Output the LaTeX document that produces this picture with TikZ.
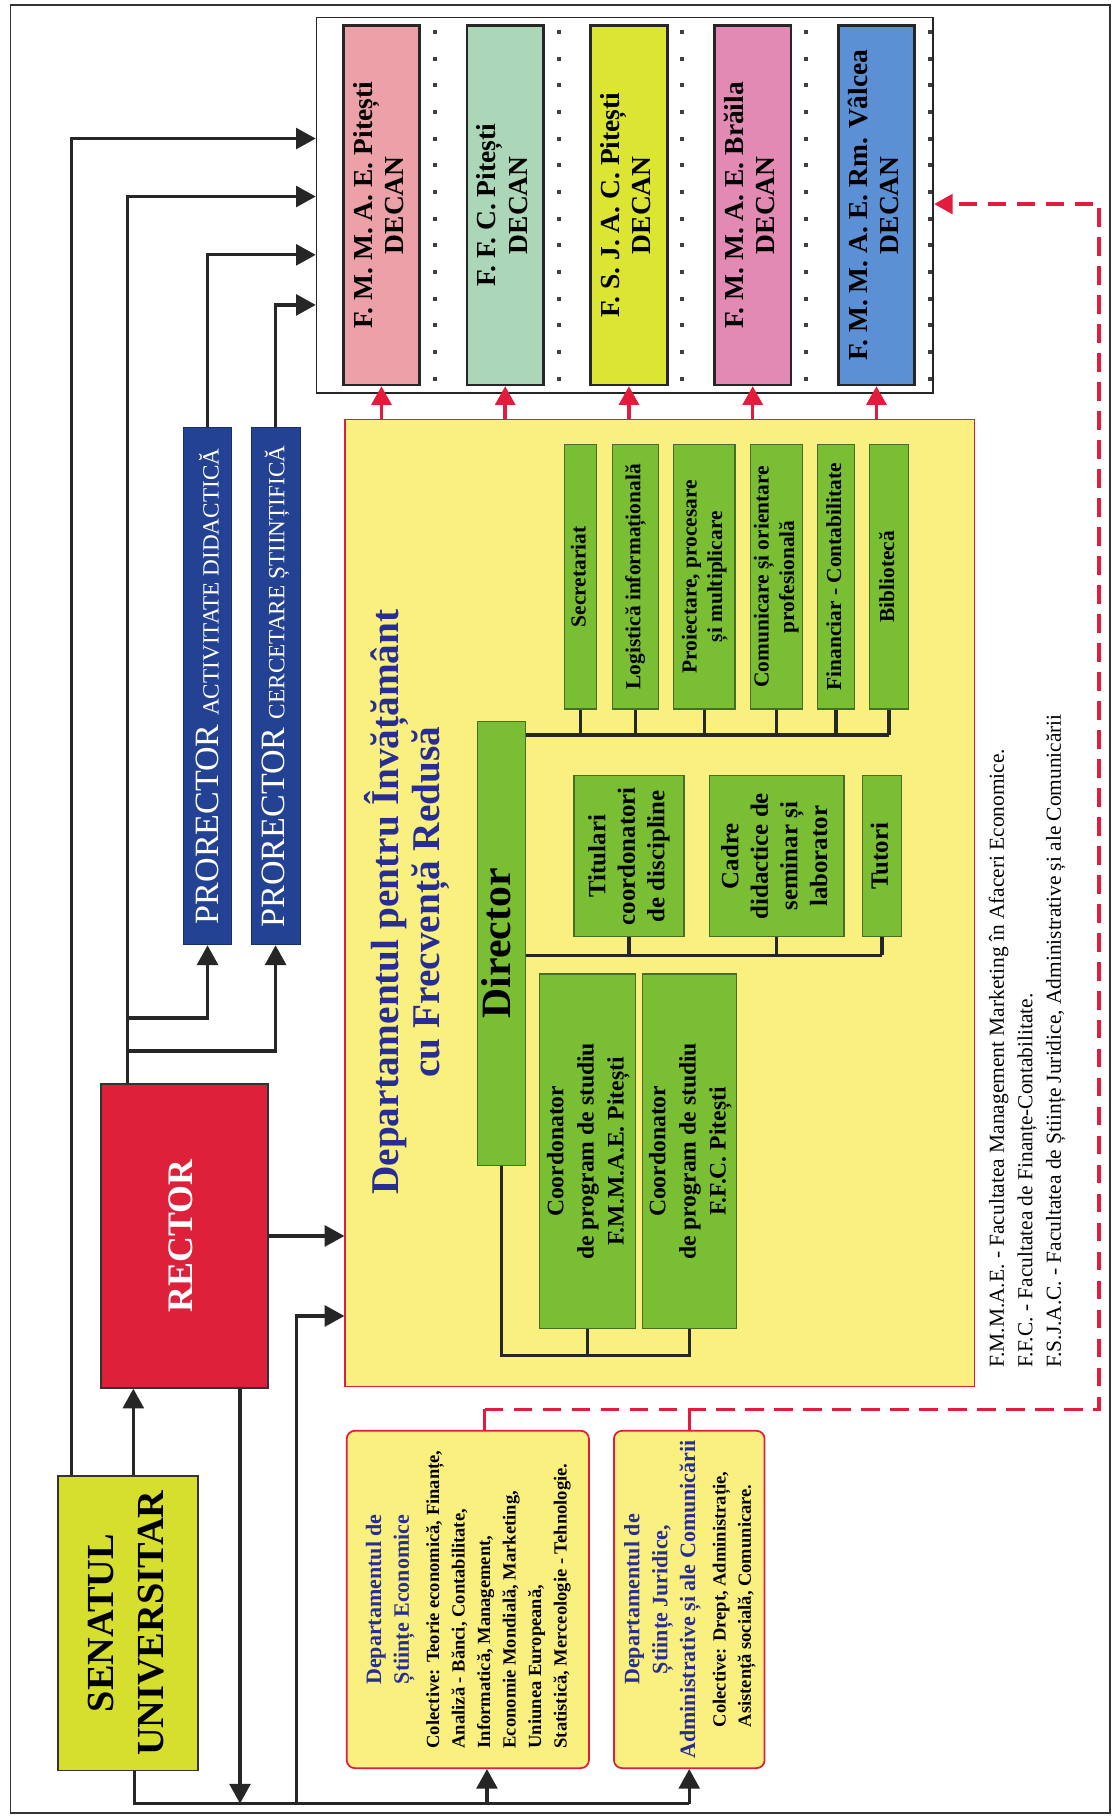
\documentclass[tikz,border=0pt]{standalone}
\usepackage{fontspec}
\setmainfont{Liberation Serif}
\usepackage{graphicx}
\usepackage{tikz}
\usetikzlibrary{positioning,arrows.meta}

\definecolor{senyellow}{RGB}{214,222,46}
\definecolor{rectred}{RGB}{222,32,58}
\definecolor{prblue}{RGB}{36,66,148}
\definecolor{deptyellow}{RGB}{250,240,128}
\definecolor{boxgreen}{RGB}{122,190,52}
\definecolor{greenline}{RGB}{70,110,40}
\definecolor{titleblue}{RGB}{40,45,150}
\definecolor{linered}{RGB}{226,28,60}
\definecolor{facpink}{RGB}{236,160,168}
\definecolor{facmint}{RGB}{172,214,184}
\definecolor{faclime}{RGB}{220,230,50}
\definecolor{facrose}{RGB}{226,138,180}
\definecolor{facsky}{RGB}{92,144,212}

\tikzstyle{arr}     = [draw, line width=0.055cm, black!85, -{Triangle[length=0.34cm,width=0.36cm]}]
\tikzstyle{link}    = [draw, line width=0.055cm, black!85]
\tikzstyle{redarr}  = [draw, line width=0.06cm, linered, dash pattern=on 0.32cm off 0.18cm,
                       -{Triangle[length=0.32cm,width=0.34cm]}]
\tikzstyle{redlink} = [draw, line width=0.06cm, linered]
\tikzstyle{dotrow}  = [draw, line width=0.07cm, black!75, dash pattern=on 0.07cm off 0.39cm]
\tikzstyle{dean}    = [rectangle, draw=black!85, line width=0.045cm, inner sep=0pt,
                       minimum width=1.32cm, minimum height=6.2cm,
                       font=\bfseries\fontsize{13.5}{15.4}\selectfont]
\tikzstyle{prbox}   = [rectangle, draw=prblue!70!black, fill=prblue, text=white, inner sep=0pt,
                       minimum width=0.84cm, minimum height=8.92cm, font=\fontsize{16.7}{20}\selectfont]
\tikzstyle{greenbox}= [rectangle, draw=greenline, line width=0.02cm, fill=boxgreen, inner sep=0pt,
                       font=\bfseries\fontsize{10.5}{12.5}\selectfont]
\tikzstyle{staff}   = [greenbox, minimum height=2.78cm, font=\bfseries\fontsize{12.2}{14.5}\selectfont]
\tikzstyle{service} = [greenbox, minimum height=4.56cm]
\tikzstyle{catedra} = [rectangle, rounded corners=0.14cm, draw=linered, line width=0.03cm,
                       fill=deptyellow, inner sep=0pt, minimum height=5.82cm,
                       font=\bfseries\fontsize{10.8}{13.7}\selectfont]

\newcommand{\vtext}[1]{\rotatebox{90}{\begin{tabular}{@{}c@{}}#1\end{tabular}}}
\newcommand{\vleft}[1]{\rotatebox{90}{\begin{tabular}{@{}l@{}}#1\end{tabular}}}

\begin{document}
\begin{tikzpicture}[x=0.02cm, y=-0.02cm]
  \useasboundingbox (0,0) rectangle (964,1568);
  \draw[black!80, line width=0.03cm] (9,4.5) rectangle (957.5,1563.5);

  % conducere
  \node[rectangle, draw=black!80, line width=0.03cm, fill=senyellow, inner sep=0pt,
        minimum width=2.42cm, minimum height=5.08cm,
        font=\bfseries\fontsize{18.8}{24.5}\selectfont] (sen) at (110.5,1400)
        {\vtext{SENATUL\\UNIVERSITAR}};
  \node[rectangle, draw=black!80, line width=0.03cm, fill=rectred, text=white, inner sep=0pt,
        minimum width=2.88cm, minimum height=5.24cm,
        font=\bfseries\fontsize{17.6}{21}\selectfont] (rec) at (159,1066) {\vtext{RECTOR}};
  \node[prbox] (pr1) at (179,592)
        {\rotatebox{90}{PRORECTOR {\fontsize{11.4}{13}\selectfont ACTIVITATE DIDACTICĂ}}};
  \node[prbox, right=0.32cm of pr1] (pr2)
        {\rotatebox{90}{PRORECTOR {\fontsize{11.4}{13}\selectfont CERCETARE ȘTIINȚIFICĂ}}};

  % facultati
  \node[rectangle, draw=black!85, line width=0.03cm, fill=white,
        minimum width=10.64cm, minimum height=6.48cm] (facs) at (539,177) {};
  \node[dean, fill=facpink] (f1) at (329,177) {\vtext{F. M. M. A. E. Pitești\\DECAN}};
  \node[dean, fill=facmint, right=0.77cm of f1] (f2) {\vtext{F. F. C. Pitești\\DECAN}};
  \node[dean, fill=faclime, right=0.77cm of f2] (f3) {\vtext{F. S. J. A. C. Pitești\\DECAN}};
  \node[dean, fill=facrose, right=0.77cm of f3] (f4) {\vtext{F. M. M. A. E. Brăila\\DECAN}};
  \node[dean, fill=facsky, right=0.77cm of f4] (f5) {\vtext{F. M. M. A. E. Rm. Vâlcea\\DECAN}};
  \draw[dotrow] ([xshift=0.24cm,yshift=-0.1cm]f1.north east) -- ([xshift=0.24cm]f1.south east);
  \draw[dotrow] ([xshift=0.24cm,yshift=-0.1cm]f2.north east) -- ([xshift=0.24cm]f2.south east);
  \draw[dotrow] ([xshift=0.24cm,yshift=-0.1cm]f3.north east) -- ([xshift=0.24cm]f3.south east);
  \draw[dotrow] ([xshift=0.24cm,yshift=-0.1cm]f4.north east) -- ([xshift=0.24cm]f4.south east);
  \draw[dotrow] ([xshift=0.24cm,yshift=-0.1cm]f5.north east) -- ([xshift=0.24cm]f5.south east);

  % departamentul IFR
  \node[rectangle, draw=linered, line width=0.02cm, fill=deptyellow,
        minimum width=10.86cm, minimum height=16.68cm] (dept) at (569,779) {};
  \node[text=titleblue, inner sep=0pt, font=\bfseries\fontsize{19.3}{20.5}\selectfont] (title)
        at (352,778) {\vtext{Departamentul pentru Învățământ\\cu Frecvență Redusă}};
  \node[greenbox, minimum width=0.83cm, minimum height=7.66cm,
        font=\bfseries\fontsize{20.5}{22}\selectfont] (dir) at (432.75,813.5) {\vtext{Director}};
  \node[greenbox, minimum width=1.65cm, minimum height=6.12cm,
        font=\bfseries\fontsize{11.6}{14.8}\selectfont] (co1) at (506.75,993)
        {\vtext{Coordonator\\de program de studiu\\F.M.M.A.E. Pitești}};
  \node[greenbox, minimum width=1.63cm, minimum height=6.12cm,
        font=\bfseries\fontsize{11.6}{14.8}\selectfont, right=0.1cm of co1] (co2)
        {\vtext{Coordonator\\de program de studiu\\F.F.C. Pitești}};
  \node[staff, minimum width=1.9cm] (tit) at (542.5,738.5) {\vtext{Titulari\\coordonatori\\de discipline}};
  \node[staff, minimum width=2.32cm, right=0.42cm of tit] (cad) {\vtext{Cadre\\didactice de\\seminar și\\laborator}};
  \node[staff, minimum width=0.67cm, right=0.3cm of cad] (tut) {\vtext{Tutori}};
  \node[service, minimum width=0.55cm] (sec) at (500.75,497.5) {\vtext{Secretariat}};
  \node[service, minimum width=0.8cm, right=0.25cm of sec] (log) {\vtext{Logistică informațională}};
  \node[service, minimum width=1.06cm, right=0.24cm of log] (pro) {\vtext{Proiectare, procesare\\și multiplicare}};
  \node[service, minimum width=0.9cm, right=0.24cm of pro] (com) {\vtext{Comunicare și orientare\\profesională}};
  \node[service, minimum width=0.64cm, right=0.24cm of com] (fin) {\vtext{Financiar - Contabilitate}};
  \node[service, minimum width=0.67cm, right=0.24cm of fin] (bib) {\vtext{Bibliotecă}};

  \draw[link] (dir.east |- 0,634) -- (bib.south |- 0,634);
  \draw[link] (sec.south) -- (sec.south |- 0,634);
  \draw[link] (log.south) -- (log.south |- 0,634);
  \draw[link] (pro.south) -- (pro.south |- 0,634);
  \draw[link] (com.south) -- (com.south |- 0,634);
  \draw[link] (fin.south) -- (fin.south |- 0,634);
  \draw[link] (bib.south) -- (bib.south |- 0,634);
  \draw[link] (dir.east |- 0,824) -- (tut.south |- 0,824);
  \draw[link] (tit.south) -- (tit.south |- 0,824);
  \draw[link] (cad.south) -- (cad.south |- 0,824);
  \draw[link] (tut.south) -- (tut.south |- 0,824);
  \draw[link] (dir.south) |- (co2.south |- 0,1169) -- (co2.south);
  \draw[link] (co1.south) -- (co1.south |- 0,1169);

  % departamente
  \node[catedra, minimum width=4.18cm] (eco) at (403.5,1379.5)
    {\rotatebox{90}{\begin{tabular}{@{}c@{}}
      \textcolor{titleblue}{Departamentul de}\\
      \textcolor{titleblue}{Științe Economice}\\[2pt]
      {\fontsize{9.1}{12.5}\selectfont\begin{tabular}{@{}l@{}}
        Colective: Teorie economică, Finanțe,\\
        Analiză - Bănci, Contabilitate,\\
        Informatică, Management,\\
        Economie Mondială, Marketing,\\
        Uniunea Europeană,\\
        Statistică, Merceologie - Tehnologie.
      \end{tabular}}
    \end{tabular}}};
  \node[catedra, minimum width=2.6cm, right=0.4cm of eco] (jur)
    {\rotatebox{90}{\begin{tabular}{@{}c@{}}
      \textcolor{titleblue}{Departamentul de}\\
      \textcolor{titleblue}{Științe Juridice,}\\
      \textcolor{titleblue}{Administrative și ale Comunicării}\\[2pt]
      {\fontsize{9.1}{12.5}\selectfont\begin{tabular}{@{}l@{}}
        Colective: Drept, Administrație,\\
        Asistență socială, Comunicare.
      \end{tabular}}
    \end{tabular}}};

  \node[inner sep=0pt, anchor=south, font=\fontsize{10.5}{14}\selectfont] (legend) at (885.5,1180)
    {\vleft{F.M.M.A.E. - Facultatea Management Marketing în Afaceri Economice.\\
            F.F.C. - Facultatea de Finanțe-Contabilitate.\\
            F.S.J.A.C. - Facultatea de Științe Juridice, Administrative și ale Comunicării}};

  % legaturi
  \draw[arr] (sen.north -| 62,0) |- (facs.west |- 0,119.5);
  \draw[arr] (rec.north -| 110,0) |- (facs.west |- 0,169.5);
  \draw[arr] (rec.north -| 110,0) |- (pr1.south |- 0,878) -- (pr1.south);
  \draw[arr] (rec.north -| 110,0) |- (pr2.south |- 0,906.5) -- (pr2.south);
  \draw[arr] (pr1.north) |- (facs.west |- 0,219.8);
  \draw[arr] (pr2.north) |- (facs.west |- 0,263);
  \draw[arr] (sen.north -| 115,0) -- (rec.south -| 115,0);
  \draw[arr] (rec.east) -- (rec.east -| dept.west);

  \coordinate (bus) at (116,1555.5);
  \draw[link] (sen.south -| bus) -- (bus) -- (bus -| jur.south);
  \draw[arr] (bus -| jur.south) -- (jur.south);
  \draw[arr] (bus -| 420,0) -- (eco.south -| 420,0);
  \draw[arr] (rec.south -| 207,0) -- (bus -| 207,0);
  \draw[arr] (bus -| 256,0) |- (dept.west |- 0,1135);

  \coordinate (rb) at (948,1215.5);
  \draw[redlink] (eco.north -| 418,0) -- (rb -| 418,0);
  \draw[redlink] (jur.north) -- (rb -| jur.north);
  \draw[redarr] (rb -| 418,0) -- (rb) |- (facs.east |- 0,176);
  \draw[redarr] (f1.south |- dept.north) -- (f1.south);
  \draw[redarr] (f2.south |- dept.north) -- (f2.south);
  \draw[redarr] (f3.south |- dept.north) -- (f3.south);
  \draw[redarr] (f4.south |- dept.north) -- (f4.south);
  \draw[redarr] (f5.south |- dept.north) -- (f5.south);
\end{tikzpicture}
\end{document}
